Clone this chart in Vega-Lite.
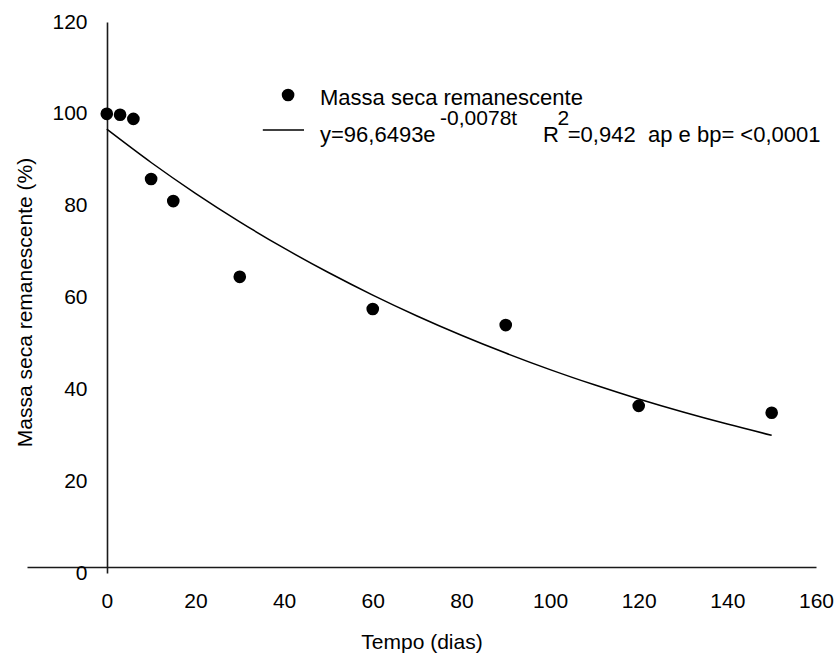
{
  "$schema": "https://vega.github.io/schema/vega-lite/v6.json",
  "width": 789,
  "height": 551,
  "autosize": {"type": "none"},
  "padding": {"left": 27, "top": 22, "right": 21, "bottom": 80},
  "background": "white",
  "config": {
    "view": {"stroke": null},
    "font": "Liberation Sans",
    "axis": {
      "grid": false,
      "ticks": false,
      "tickSize": 0,
      "labelFlush": false,
      "domainColor": "#1a1a1a",
      "domainWidth": 1.6,
      "labelColor": "#000000",
      "titleColor": "#000000",
      "labelFontSize": 21,
      "titleFontSize": 21,
      "titleFontWeight": "normal",
      "labelFont": "Liberation Sans",
      "titleFont": "Liberation Sans"
    }
  },
  "datasets": {
    "obs": [
      {"t": 0, "m": 100.0},
      {"t": 3, "m": 99.8},
      {"t": 6, "m": 98.9},
      {"t": 10, "m": 85.8},
      {"t": 15, "m": 81.0},
      {"t": 30, "m": 64.5},
      {"t": 60, "m": 57.5},
      {"t": 90, "m": 54.0},
      {"t": 120, "m": 36.4},
      {"t": 150, "m": 34.9}
    ],
    "fit": [
      {"t": 0, "m": 96.65},
      {"t": 10, "m": 89.40},
      {"t": 20, "m": 82.69},
      {"t": 30, "m": 76.48},
      {"t": 40, "m": 70.74},
      {"t": 50, "m": 65.44},
      {"t": 60, "m": 60.53},
      {"t": 70, "m": 55.98},
      {"t": 80, "m": 51.78},
      {"t": 90, "m": 47.90},
      {"t": 100, "m": 44.30},
      {"t": 110, "m": 40.98},
      {"t": 120, "m": 37.90},
      {"t": 130, "m": 35.06},
      {"t": 140, "m": 32.43},
      {"t": 150, "m": 30.00}
    ],
    "legDot": [{"t": 40.9, "m": 104.1}],
    "legLine": [{"t": 35.2, "m": 96.5}, {"t": 44.5, "m": 96.5}],
    "legText": [
      {"t": 48.1, "m": 101.9, "label": "Massa seca remanescente"},
      {"t": 48.1, "m": 93.9, "label": "y=96,6493e"},
      {"t": 98.4, "m": 93.9, "label": "R"},
      {"t": 104.0, "m": 93.9, "label": "=0,942"},
      {"t": 122.1, "m": 93.9, "label": "ap e bp= <0,0001"}
    ],
    "legSup": [
      {"t": 75.2, "m": 97.6, "label": "-0,0078t"},
      {"t": 101.7, "m": 97.6, "label": "2"}
    ]
  },
  "layer": [
    {
      "data": {"name": "fit"},
      "mark": {"type": "line", "color": "#000000", "strokeWidth": 1.5, "interpolate": "monotone"},
      "encoding": {
        "x": {
          "field": "t", "type": "quantitative",
          "scale": {"domain": [-18, 160], "nice": false, "zero": false},
          "axis": {
            "title": "Tempo (dias)",
            "values": [0, 20, 40, 60, 80, 100, 120, 140, 160],
            "offset": -6,
            "labelPadding": 40,
            "labelBaseline": "alphabetic",
            "titleY": 81,
            "titleBaseline": "alphabetic"
          }
        },
        "y": {
          "field": "m", "type": "quantitative",
          "scale": {"domain": [0, 120], "nice": false, "zero": false},
          "axis": {
            "title": "Massa seca remanescente (%)",
            "values": [0, 20, 40, 60, 80, 100, 120],
            "offset": -80,
            "labelPadding": 20,
            "titleX": -76,
            "titleY": 280,
            "titleBaseline": "alphabetic"
          }
        }
      }
    },
    {
      "data": {"name": "obs"},
      "mark": {"type": "circle", "color": "#000000", "opacity": 1, "size": 160},
      "encoding": {
        "x": {"field": "t", "type": "quantitative"},
        "y": {"field": "m", "type": "quantitative"}
      }
    },
    {
      "data": {"name": "legDot"},
      "mark": {"type": "circle", "color": "#000000", "opacity": 1, "size": 160},
      "encoding": {
        "x": {"field": "t", "type": "quantitative"},
        "y": {"field": "m", "type": "quantitative"}
      }
    },
    {
      "data": {"name": "legLine"},
      "mark": {"type": "line", "color": "#000000", "strokeWidth": 1.5},
      "encoding": {
        "x": {"field": "t", "type": "quantitative"},
        "y": {"field": "m", "type": "quantitative"}
      }
    },
    {
      "data": {"name": "legText"},
      "mark": {"type": "text", "align": "left", "baseline": "alphabetic", "fontSize": 22, "color": "#000000", "font": "Liberation Sans"},
      "encoding": {
        "x": {"field": "t", "type": "quantitative"},
        "y": {"field": "m", "type": "quantitative"},
        "text": {"field": "label"}
      }
    },
    {
      "data": {"name": "legSup"},
      "mark": {"type": "text", "align": "left", "baseline": "alphabetic", "fontSize": 21, "color": "#000000", "font": "Liberation Sans"},
      "encoding": {
        "x": {"field": "t", "type": "quantitative"},
        "y": {"field": "m", "type": "quantitative"},
        "text": {"field": "label"}
      }
    }
  ]
}
